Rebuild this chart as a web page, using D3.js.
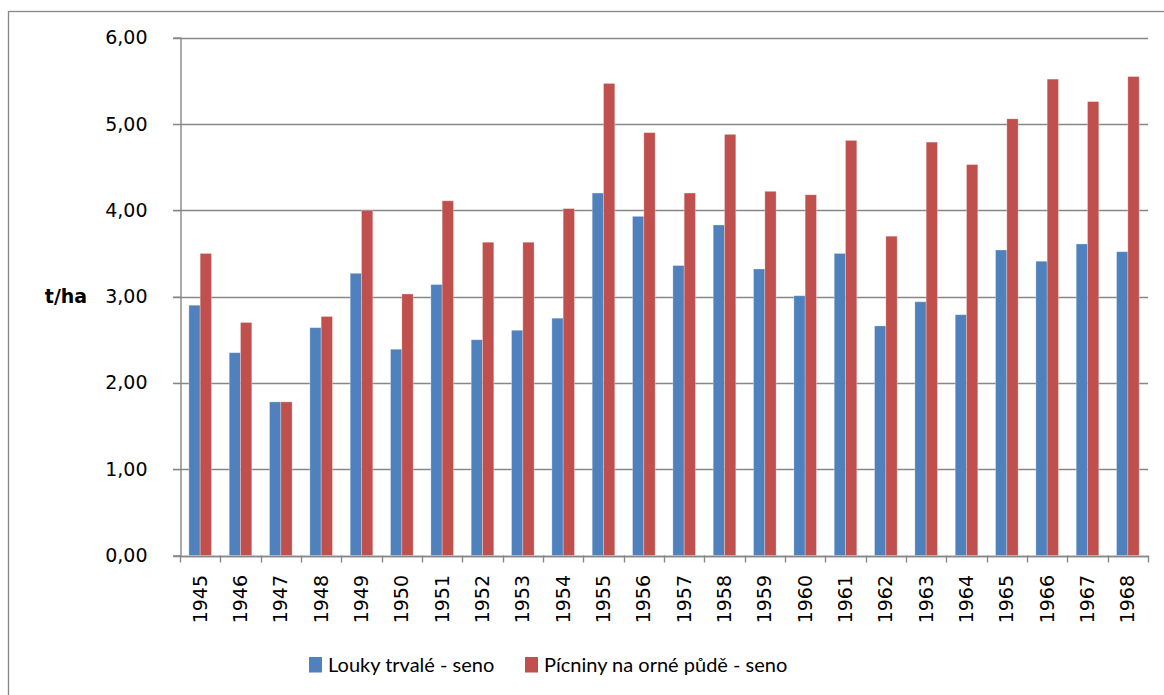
<!DOCTYPE html>
<html>
<head>
<meta charset="utf-8">
<script src="https://cdn.jsdelivr.net/npm/d3@7"></script>
<style>
  body { margin: 0; background: #fff; }
  svg { display: block; }
</style>
</head>
<body>
<div id="chart"></div>
<script>
// data
const years = ["1945","1946","1947","1948","1949","1950","1951","1952","1953","1954","1955","1956",
               "1957","1958","1959","1960","1961","1962","1963","1964","1965","1966","1967","1968"];
const louky = [2.90, 2.35, 1.78, 2.64, 3.27, 2.39, 3.14, 2.50, 2.61, 2.75, 4.20, 3.93,
               3.36, 3.83, 3.32, 3.01, 3.50, 2.66, 2.94, 2.79, 3.54, 3.41, 3.61, 3.52];
const picniny = [3.50, 2.70, 1.78, 2.77, 4.00, 3.03, 4.11, 3.63, 3.63, 4.02, 5.47, 4.90,
                 4.20, 4.88, 4.22, 4.18, 4.81, 3.70, 4.79, 4.53, 5.06, 5.52, 5.26, 5.55];
const seriesNames = ["Louky trvalé - seno", "Pícniny na orné půdě - seno"];
const seriesColors = ["#4F81BD", "#C0504D"];
const yTicks = [0, 1, 2, 3, 4, 5, 6];

const W = 1164, H = 695;
const plot = {left: 180, right: 1148, top: 37.7, bottom: 555.5};

const svg = d3.select("#chart").append("svg")
  .attr("width", W)
  .attr("height", H);

// outer frame (runs off the right and bottom edge)
svg.append("rect")
  .attr("x", 8.5).attr("y", 11.5)
  .attr("width", 1300).attr("height", 800)
  .attr("fill", "none")
  .attr("stroke", "#878787")
  .attr("stroke-width", 1.3);

const x0 = d3.scaleBand()
  .domain(years)
  .range([plot.left, plot.right])
  .padding(0);

const x1 = d3.scaleBand()
  .domain([0, 1])
  .range([x0.bandwidth() * 0.22, x0.bandwidth() * 0.78])
  .padding(0);

const y = d3.scaleLinear()
  .domain([0, 6])
  .range([plot.bottom, plot.top]);

const fmt = d => d3.format(".2f")(d).replace(".", ",");

// gridlines
svg.append("g")
  .selectAll("line")
  .data(yTicks)
  .join("line")
    .attr("x1", plot.left - 7)
    .attr("x2", plot.right)
    .attr("y1", d => Math.round(y(d)) + 0.5)
    .attr("y2", d => Math.round(y(d)) + 0.5)
    .attr("stroke", "#878787")
    .attr("stroke-width", 1.4);

// y axis
const yAxis = svg.append("g")
  .attr("transform", "translate(" + (plot.left + 0.5) + ",0)")
  .call(d3.axisLeft(y).tickValues(yTicks).tickFormat(fmt).tickSize(7).tickPadding(26));
yAxis.select(".domain").attr("stroke", "#878787").attr("stroke-width", 1.4);
yAxis.selectAll(".tick line").attr("stroke", "#878787");
yAxis.selectAll("text")
  .attr("font-family", "DejaVu Sans")
  .attr("font-size", 19)
  .attr("fill", "#000");

svg.append("text")
  .attr("x", 66)
  .attr("y", y(3))
  .attr("dy", "0.35em")
  .attr("text-anchor", "middle")
  .attr("font-family", "DejaVu Sans")
  .attr("font-weight", "bold")
  .attr("font-size", 19)
  .text("t/ha");

// bars
const groups = svg.append("g")
  .selectAll("g")
  .data(years.map((yr, i) => ({year: yr, values: [louky[i], picniny[i]]})))
  .join("g")
    .attr("transform", d => "translate(" + x0(d.year) + ",0)");

groups.selectAll("rect")
  .data(d => d.values.map((v, k) => ({k: k, v: v})))
  .join("rect")
    .attr("x", d => x1(d.k))
    .attr("y", d => y(d.v))
    .attr("width", x1.bandwidth())
    .attr("height", d => y(0) - y(d.v))
    .attr("fill", d => seriesColors[d.k])
    .attr("stroke", "#fff")
    .attr("stroke-opacity", 0.35)
    .attr("stroke-width", 0.8);

// x axis line + boundary ticks
svg.append("line")
  .attr("x1", plot.left).attr("x2", plot.right)
  .attr("y1", Math.round(y(0)) + 0.5).attr("y2", Math.round(y(0)) + 0.5)
  .attr("stroke", "#878787")
  .attr("stroke-width", 1.4);

svg.append("g")
  .selectAll("line")
  .data(years.map(d => x0(d)).concat([plot.right]))
  .join("line")
    .attr("x1", d => Math.round(d) + 0.5)
    .attr("x2", d => Math.round(d) + 0.5)
    .attr("y1", y(0))
    .attr("y2", y(0) + 7)
    .attr("stroke", "#878787")
    .attr("stroke-width", 1.4);

svg.append("g")
  .selectAll("text")
  .data(years)
  .join("text")
    .attr("transform", d => "translate(" + (x0(d) + x0.bandwidth() / 2) + ",575) rotate(-90)")
    .attr("dy", "0.35em")
    .attr("text-anchor", "end")
    .attr("font-family", "DejaVu Sans")
    .attr("font-size", 19)
    .text(d => d);

// legend
const legendX = [309, 525];
const legend = svg.append("g")
  .selectAll("g")
  .data(seriesNames)
  .join("g")
    .attr("transform", (d, i) => "translate(" + legendX[i] + ",657)");

legend.append("rect")
  .attr("width", 13)
  .attr("height", 15.5)
  .attr("fill", (d, i) => seriesColors[i]);

legend.append("text")
  .attr("x", 19)
  .attr("y", 8)
  .attr("dy", "0.35em")
  .attr("font-family", "Lato")
  .attr("font-size", 20)
  .text(d => d);
</script>
</body>
</html>
